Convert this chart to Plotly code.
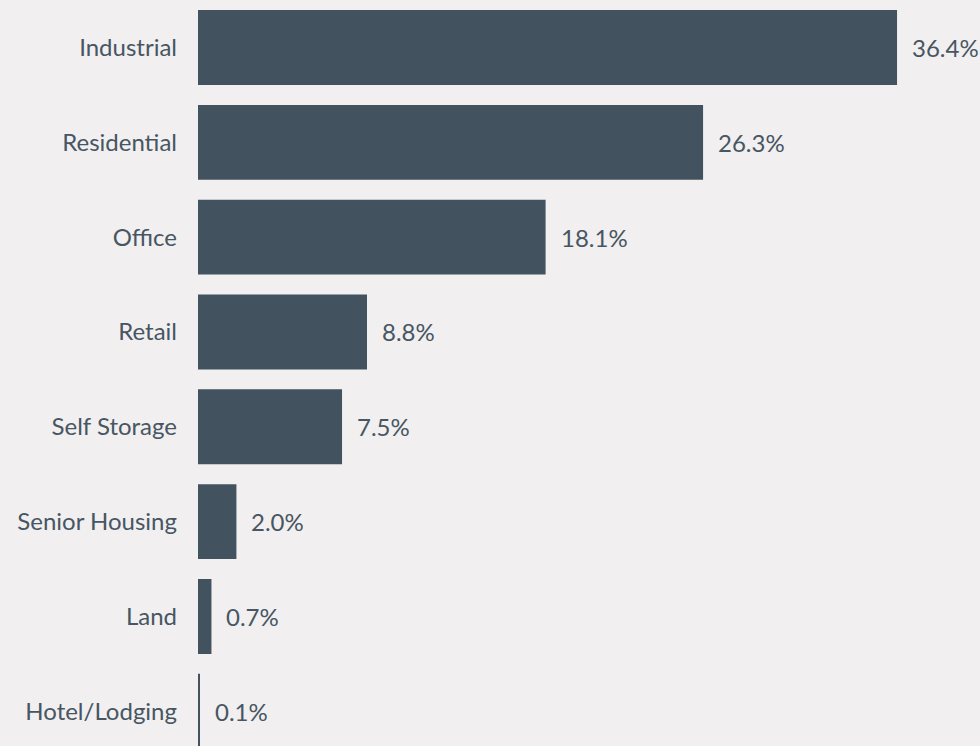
import plotly.graph_objects as go

categories = ["Industrial", "Residential", "Office", "Retail", "Self Storage",
              "Senior Housing", "Land", "Hotel/Lodging"]
shares = [36.4, 26.3, 18.1, 8.8, 7.5, 2.0, 0.7, 0.1]
share_labels = [f"{v:.1f}%" for v in shares]

BAR = "#43525f"
TEXT = "#475662"
BG = "#f1eff0"
FONT = "Lato"
SIZE = 24

positions = list(range(len(categories)))

fig = go.Figure(
    go.Bar(
        x=shares,
        y=positions,
        orientation="h",
        width=0.79,
        marker=dict(color=BAR, line=dict(width=0)),
        hoverinfo="skip",
    )
)

for pos, val, lab in zip(positions, shares, share_labels):
    fig.add_annotation(
        x=val, y=pos, text=lab, showarrow=False,
        xanchor="left", yanchor="middle", xshift=13,
        font=dict(family=FONT, size=SIZE, color=TEXT),
    )

fig.update_layout(
    width=980, height=746,
    margin=dict(l=198, r=0, t=0, b=0),
    paper_bgcolor=BG, plot_bgcolor=BG,
    showlegend=False,
    font=dict(family=FONT, size=SIZE, color=TEXT),
    xaxis=dict(range=[0, 40.72], visible=False, fixedrange=True),
    yaxis=dict(
        range=[7.366, -0.501],
        tickmode="array", tickvals=positions, ticktext=categories,
        showgrid=False, zeroline=False, showline=False,
        ticks="", ticklabelstandoff=20,
        tickfont=dict(family=FONT, size=SIZE, color=TEXT),
        fixedrange=True,
    ),
)

fig.write_html("out.html")
